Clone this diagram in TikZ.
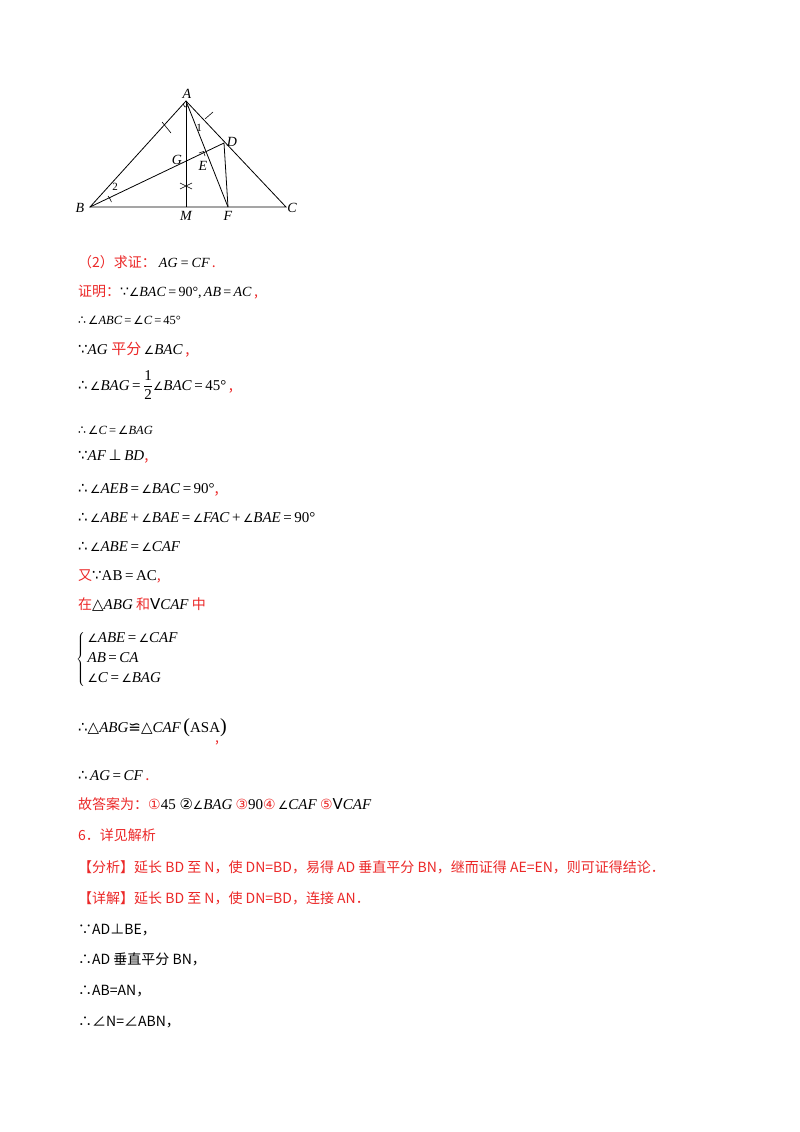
\documentclass[tikz,border=0pt]{standalone}
\usepackage{fontspec}
\setmainfont{Liberation Serif}
\newfontfamily\cjk{Noto Sans CJK SC}
\newfontfamily\djv{DejaVu Sans}
\newcommand{\ang}{{\djv\fontsize{11.5}{11.5}\selectfont ∠}}
\newcommand{\tf}{{\djv ∴}}
\newcommand{\bc}{{\djv ∵}}
\definecolor{rd}{RGB}{235,40,40}
\tikzset{ln/.style={anchor=base west,inner sep=0,font=\fontsize{15}{15}\selectfont},
 sm/.style={anchor=base west,inner sep=0,font=\fontsize{12.5}{12.5}\selectfont},
 cj/.style={anchor=base west,inner sep=0,font=\cjk\fontsize{14}{14}\selectfont,text=rd},
 lab/.style={inner sep=0,font=\itshape\fontsize{14}{14}\selectfont},
 geo/.style={line width=0.8pt}}
\begin{document}
\begin{tikzpicture}[x=1pt,y=-1pt]
\useasboundingbox (0,0) rectangle (800,1132);
% geometry
\coordinate (A) at (186,101); \coordinate (B) at (90,207); \coordinate (C) at (286,207);
\coordinate (M) at (186,207); \coordinate (F) at (228,207); \coordinate (D) at (224,143);
\coordinate (E) at (203,157); \coordinate (G) at (186,168);
\draw[geo] (A)--(B)--(C)--cycle; \draw[geo] (A)--(M); \draw[geo] (A)--(F); \draw[geo] (B)--(D)--(F);
\draw[line width=0.6pt] (162,122)--(171,133); \draw[line width=0.6pt] (205,119)--(213,112);
\draw[line width=0.6pt] (180,183)--(192,189); \draw[line width=0.6pt] (180,189)--(192,183);
\draw[line width=0.6pt] (199,153)--(203.5,151.5)--(205,156);
\draw[line width=0.6pt] (183,104)--(185,107)--(188,106);
\draw[line width=0.6pt] (108,196) arc[start angle=-40,end angle=-20,radius=20];
\node[lab] (lA) at (187,94) {A}; \node[lab] (lB) at (80,208) {B}; \node[lab] (lC) at (292,208) {C};
\node[lab] (lM) at (186,216) {M}; \node[lab] (lF) at (228,216) {F}; \node[lab] (lD) at (232,142) {D};
\node[lab] (lE) at (203,166) {E}; \node[lab] (lG) at (177,160) {G};
\node[lab,font=\fontsize{11}{11}\selectfont] (l1) at (199,128) {1};
\node[lab,font=\fontsize{11}{11}\selectfont] (l2) at (115,187) {2};
% text
\node[cj] (t1) at (78,267) {（2）求证：\hspace{3pt}{\color{black}\rmfamily\itshape AG\,=\,CF}\,.};
\node[cj] (t2) at (78,296) {证明：{\color{black}\rmfamily \bc\ang\textit{BAC}\,=\,90°,\,\textit{AB}\,=\,\textit{AC}}\,,};
\node[sm] (t3) at (78,324) {\tf\,\ang\textit{ABC}\,=\,\ang\textit{C}\,=\,45°};
\node[ln] (t4) at (78,354) {\bc\textit{AG} {\cjk\color{rd}平分}\,\ang\textit{BAC}\,{\cjk\color{rd},}};
\node[ln] (t5) at (78,390) {\tf\,\ang\textit{BAG}\,=\,$\displaystyle\frac{\mbox{1}}{\mbox{2}}$\ang\textit{BAC}\,=\,45°\,{\cjk\color{rd},}};
\node[sm] (t6) at (78,434) {\tf\,\ang\textit{C}\,=\,\ang\textit{BAG}};
\node[ln] (t7) at (78,460) {\bc\textit{AF}\,{\djv ⊥}\,\textit{BD}{\cjk\color{rd},}};
\node[ln] (t8) at (78,493) {\tf\,\ang\textit{AEB}\,=\,\ang\textit{BAC}\,=\,90°{\cjk\color{rd},}};
\node[ln] (t9) at (78,522) {\tf\,\ang\textit{ABE}\,+\,\ang\textit{BAE}\,=\,\ang\textit{FAC}\,+\,\ang\textit{BAE}\,=\,90°};
\node[ln] (t10) at (78,551) {\tf\,\ang\textit{ABE}\,=\,\ang\textit{CAF}};
\node[cj] (t11) at (78,580) {又{\color{black}\rmfamily\fontsize{15}{15}\selectfont\bc AB\,=\,AC},};
\node[cj] (t12) at (78,609) {在{\color{black}\rmfamily\fontsize{15}{15}\selectfont{\djv △}\textit{ABG}} 和{\color{black}\rmfamily\fontsize{15}{15}\selectfont{\djv V}\textit{CAF}} 中};
\node[ln,anchor=north west] (t13) at (76,632) {$\left\{\vcenter{\hbox{\begin{tabular}{@{\,}l@{}}\ang\textit{ABE}\,=\,\ang\textit{CAF}\\[5pt] \textit{AB}\,=\,\textit{CA}\\[5pt] \ang\textit{C}\,=\,\ang\textit{BAG}\end{tabular}}}\right.$};
\node[ln] (t14) at (78,732) {\tf{\djv △}\textit{ABG}{\djv ≌}{\djv △}\textit{CAF}\,{\fontsize{20}{20}\selectfont(}ASA{\fontsize{20}{20}\selectfont)}};
\node[cj] (t15) at (215,742) {,};
\node[ln] (t16) at (78,780) {\tf\,\textit{AG}\,=\,\textit{CF}\,{\cjk\color{rd}.}};
\node[cj] (t17) at (78,809) {故答案为：{\djv ①}{\color{black}\rmfamily\fontsize{15}{15}\selectfont 45 {\djv ②}\ang\textit{BAG}} {\djv ③}{\color{black}\rmfamily\fontsize{15}{15}\selectfont 90}{\djv ④}{\color{black}\rmfamily\fontsize{15}{15}\selectfont\,\ang\textit{CAF}} {\djv ⑤}{\color{black}\rmfamily\fontsize{15}{15}\selectfont{\djv V}\textit{CAF}}};
\node[cj] (t18) at (78,840) {6．详见解析};
\node[cj] (t19) at (78,872) {【分析】延长 BD 至 N，使 DN=BD，易得 AD 垂直平分 BN，继而证得 AE=EN，则可证得结论．};
\node[cj] (t20) at (78,903) {【详解】延长 BD 至 N，使 DN=BD，连接 AN．};
\node[cj,text=black] (t21) at (78,934) {∵AD⊥BE，};
\node[cj,text=black] (t22) at (78,964) {∴AD 垂直平分 BN，};
\node[cj,text=black] (t23) at (78,995) {∴AB=AN，};
\node[cj,text=black] (t24) at (78,1026) {∴∠N=∠ABN，};
\end{tikzpicture}
\end{document}
